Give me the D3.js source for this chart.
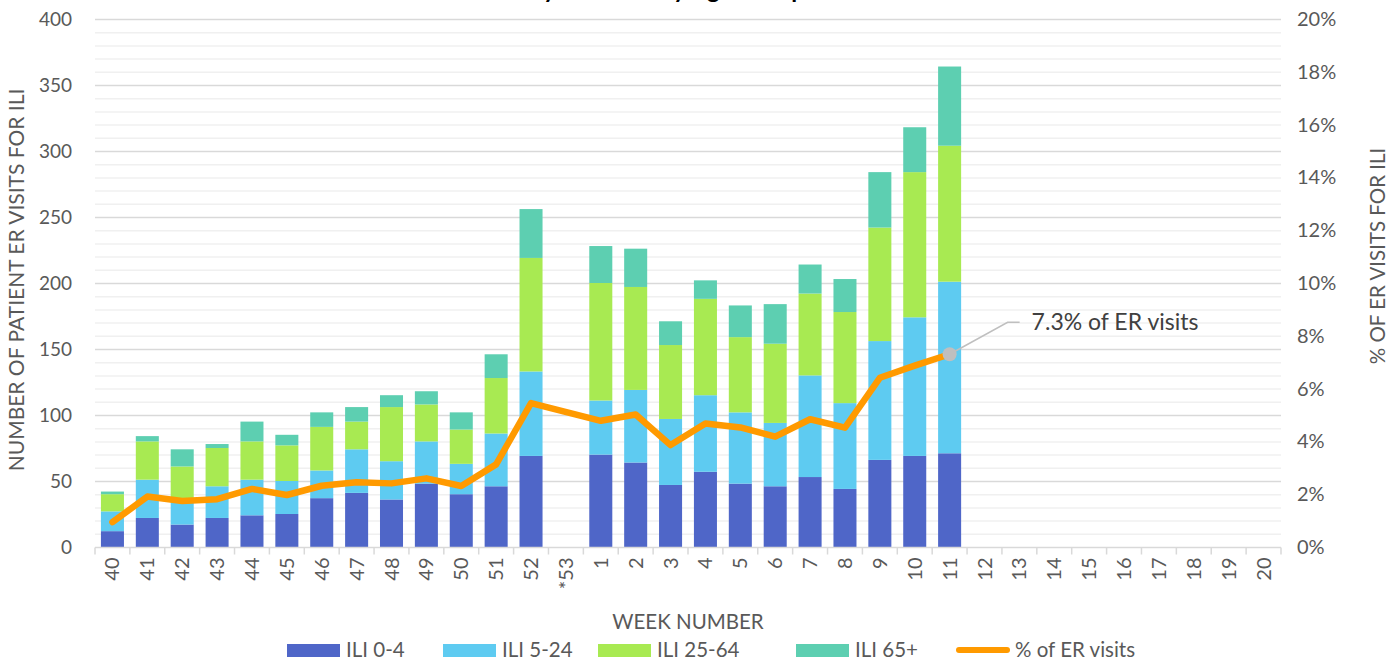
<!DOCTYPE html>
<html>
<head>
<meta charset="utf-8">
<script src="https://cdn.jsdelivr.net/npm/d3@7"></script>
<style>
  body { margin: 0; background: #fff; }
  svg { display: block; font-family: Lato, "Open Sans", sans-serif; }
</style>
</head>
<body>
<svg id="chart" width="1400" height="661"></svg>
<script>
"use strict";

// week labels along the x axis (*53 has no data)
var weeks = ["40","41","42","43","44","45","46","47","48","49","50","51","52","*53",
  "1","2","3","4","5","6","7","8","9","10","11","12","13","14","15","16","17","18","19","20"];

// patient ER visits for ILI, by age group (null = no data)
var ili0to4   = [12,22,17,22,24,25,37,41,36,48,40,46,69,null,70,64,47,57,48,46,53,44,66,69,71];
var ili5to24  = [15,29,17,24,27,25,21,33,29,32,23,40,64,null,41,55,50,58,54,48,77,65,90,105,130];
var ili25to64 = [13,29,27,29,29,27,33,21,41,28,26,42,86,null,89,78,56,73,57,60,62,69,86,110,103];
var ili65plus = [2,4,13,3,15,8,11,11,9,10,13,18,37,null,28,29,18,14,24,30,22,25,42,34,60];

// % of ER visits for ILI
var pctER = [0.94,1.91,1.74,1.81,2.2,1.97,2.32,2.45,2.41,2.6,2.31,3.13,5.45,null,
  4.78,5.02,3.86,4.68,4.53,4.18,4.84,4.52,6.41,6.87,7.3];

var seriesNames = ["ILI 0-4","ILI 5-24","ILI 25-64","ILI 65+"];
var seriesColors = ["#4f66c8","#5ecbf1","#a8ea52","#5dcfb1"];
var lineColor = "#ff9a00";
var textColor = "#595959";

var leftTicks = [0,50,100,150,200,250,300,350,400];
var rightTicks = [0,2,4,6,8,10,12,14,16,18,20];

var svg = d3.select("#chart");
var plot = {left: 95, right: 1281, top: 19, bottom: 547};

var x = d3.scaleBand()
  .domain(weeks)
  .range([plot.left, plot.right])
  .paddingInner(0.34)
  .paddingOuter(0.17);

var y = d3.scaleLinear().domain([0, 400]).range([plot.bottom, plot.top]);
var y2 = d3.scaleLinear().domain([0, 20]).range([plot.bottom, plot.top]);

// title sits above the top edge, only its descenders show
svg.append("text")
  .attr("x", 640).attr("y", -2)
  .attr("text-anchor", "middle")
  .style("font-size", "24px").style("font-weight", "bold").style("fill", "#000")
  .text("Weekly ER Visits by Age Group");

// gridlines: minor every 10, major every 50
var minor = d3.range(10, 401, 10).filter(function(v) { return v % 50 != 0; });
svg.append("g").selectAll("line")
  .data(minor)
  .enter().append("line")
  .attr("x1", plot.left).attr("x2", plot.right)
  .attr("y1", function(d) { return y(d) + 0.5; })
  .attr("y2", function(d) { return y(d) + 0.5; })
  .style("stroke", "#f0f0f0").style("stroke-width", 1.5);

svg.append("g").selectAll("line")
  .data(leftTicks.slice(1))
  .enter().append("line")
  .attr("x1", plot.left).attr("x2", plot.right)
  .attr("y1", function(d) { return y(d) + 0.5; })
  .attr("y2", function(d) { return y(d) + 0.5; })
  .style("stroke", "#d9d9d9").style("stroke-width", 1.5);

// stacked bars
var rows = weeks.map(function(w, i) {
  return {week: w, a: ili0to4[i], b: ili5to24[i], c: ili25to64[i], d: ili65plus[i]};
}).filter(function(r) { return r.a != null; });

var stack = d3.stack().keys(["a","b","c","d"]);
var layers = stack(rows);

svg.append("g").selectAll("g")
  .data(layers)
  .enter().append("g")
  .style("fill", function(d, i) { return seriesColors[i]; })
  .selectAll("rect")
  .data(function(d) { return d; })
  .enter().append("rect")
  .attr("x", function(d) { return x(d.data.week); })
  .attr("width", x.bandwidth())
  .attr("y", function(d) { return y(d[1]); })
  .attr("height", function(d) { return y(d[0]) - y(d[1]); });

// x axis line and ticks
var xAxis = svg.append("g").attr("transform", "translate(0," + (plot.bottom + 0.5) + ")");
xAxis.append("line")
  .attr("x1", plot.left).attr("x2", plot.right)
  .style("stroke", "#d9d9d9").style("stroke-width", 1.5);
var edges = weeks.map(function(w) { return x(w) - x.step() * x.paddingInner() / 2; });
edges.push(plot.right);
xAxis.selectAll(".tick")
  .data(edges)
  .enter().append("line")
  .attr("x1", function(d) { return d; }).attr("x2", function(d) { return d; })
  .attr("y1", 0).attr("y2", 7)
  .style("stroke", "#d9d9d9").style("stroke-width", 1.5);

xAxis.selectAll("text")
  .data(weeks)
  .enter().append("text")
  .attr("transform", function(d) {
    return "translate(" + (x(d) + x.bandwidth() / 2 + 7) + ",10) rotate(-90)";
  })
  .attr("text-anchor", "end")
  .style("font-size", "20px").style("fill", textColor)
  .text(function(d) { return d; });

// left axis labels
svg.append("g").selectAll("text")
  .data(leftTicks)
  .enter().append("text")
  .attr("x", 72).attr("y", function(d) { return y(d) + 7; })
  .attr("text-anchor", "end")
  .style("font-size", "19px").style("fill", textColor)
  .text(function(d) { return d; });

// right axis labels
svg.append("g").selectAll("text")
  .data(rightTicks)
  .enter().append("text")
  .attr("x", 1297).attr("y", function(d) { return y2(d) + 7; })
  .style("font-size", "20px").style("fill", textColor)
  .text(function(d) { return d + "%"; });

// axis titles
svg.append("text")
  .attr("transform", "translate(24,280) rotate(-90)")
  .attr("text-anchor", "middle")
  .style("font-size", "21px").style("fill", textColor)
  .text("NUMBER OF PATIENT ER VISITS FOR ILI");

svg.append("text")
  .attr("transform", "translate(1385,256) rotate(-90)")
  .attr("text-anchor", "middle")
  .style("font-size", "20.5px").style("fill", textColor)
  .text("% OF ER VISITS FOR ILI");

svg.append("text")
  .attr("x", 688).attr("y", 629)
  .attr("text-anchor", "middle")
  .style("font-size", "20.5px").style("fill", textColor)
  .text("WEEK NUMBER");

// % of ER visits line (empty week is skipped and joined over)
var pts = weeks.map(function(w, i) { return {week: w, v: pctER[i]}; })
  .filter(function(p) { return p.v != null; });

var line = d3.line()
  .x(function(d) { return x(d.week) + x.bandwidth() / 2; })
  .y(function(d) { return y2(d.v); });

svg.append("path")
  .datum(pts)
  .attr("d", line)
  .style("fill", "none")
  .style("stroke", lineColor)
  .style("stroke-width", 6.5)
  .style("stroke-linejoin", "round")
  .style("stroke-linecap", "round");

// callout on the latest point
var last = pts[pts.length - 1];
var lx = x(last.week) + x.bandwidth() / 2, ly = y2(last.v);
svg.append("path")
  .attr("d", "M" + lx + "," + ly + "L" + (lx + 58) + "," + (ly - 32) + "L" + (lx + 70) + "," + (ly - 32))
  .style("fill", "none").style("stroke", "#bfbfbf").style("stroke-width", 1.5);
svg.append("circle")
  .attr("cx", lx).attr("cy", ly).attr("r", 7)
  .style("fill", "#bfbfbf");
svg.append("text")
  .attr("x", lx + 82).attr("y", ly - 24)
  .style("font-size", "23px").style("fill", "#404040")
  .text(last.v + "% of ER visits");

// legend
var legendItems = [
  {name: seriesNames[0], color: seriesColors[0], x: 287},
  {name: seriesNames[1], color: seriesColors[1], x: 443},
  {name: seriesNames[2], color: seriesColors[2], x: 598},
  {name: seriesNames[3], color: seriesColors[3], x: 796},
  {name: "% of ER visits", color: lineColor, x: 956, line: true}
];
var legend = svg.append("g").attr("transform", "translate(0,650)");
legendItems.forEach(function(it) {
  if (it.line) {
    legend.append("line")
      .attr("x1", it.x + 3).attr("x2", it.x + 51)
      .style("stroke", it.color).style("stroke-width", 6).style("stroke-linecap", "round");
  } else {
    legend.append("rect")
      .attr("x", it.x).attr("y", -6).attr("width", 53).attr("height", 13)
      .style("fill", it.color);
  }
  legend.append("text")
    .attr("x", it.x + 59).attr("y", 7)
    .style("font-size", "20.5px").style("fill", textColor)
    .text(it.name);
});
</script>
</body>
</html>
